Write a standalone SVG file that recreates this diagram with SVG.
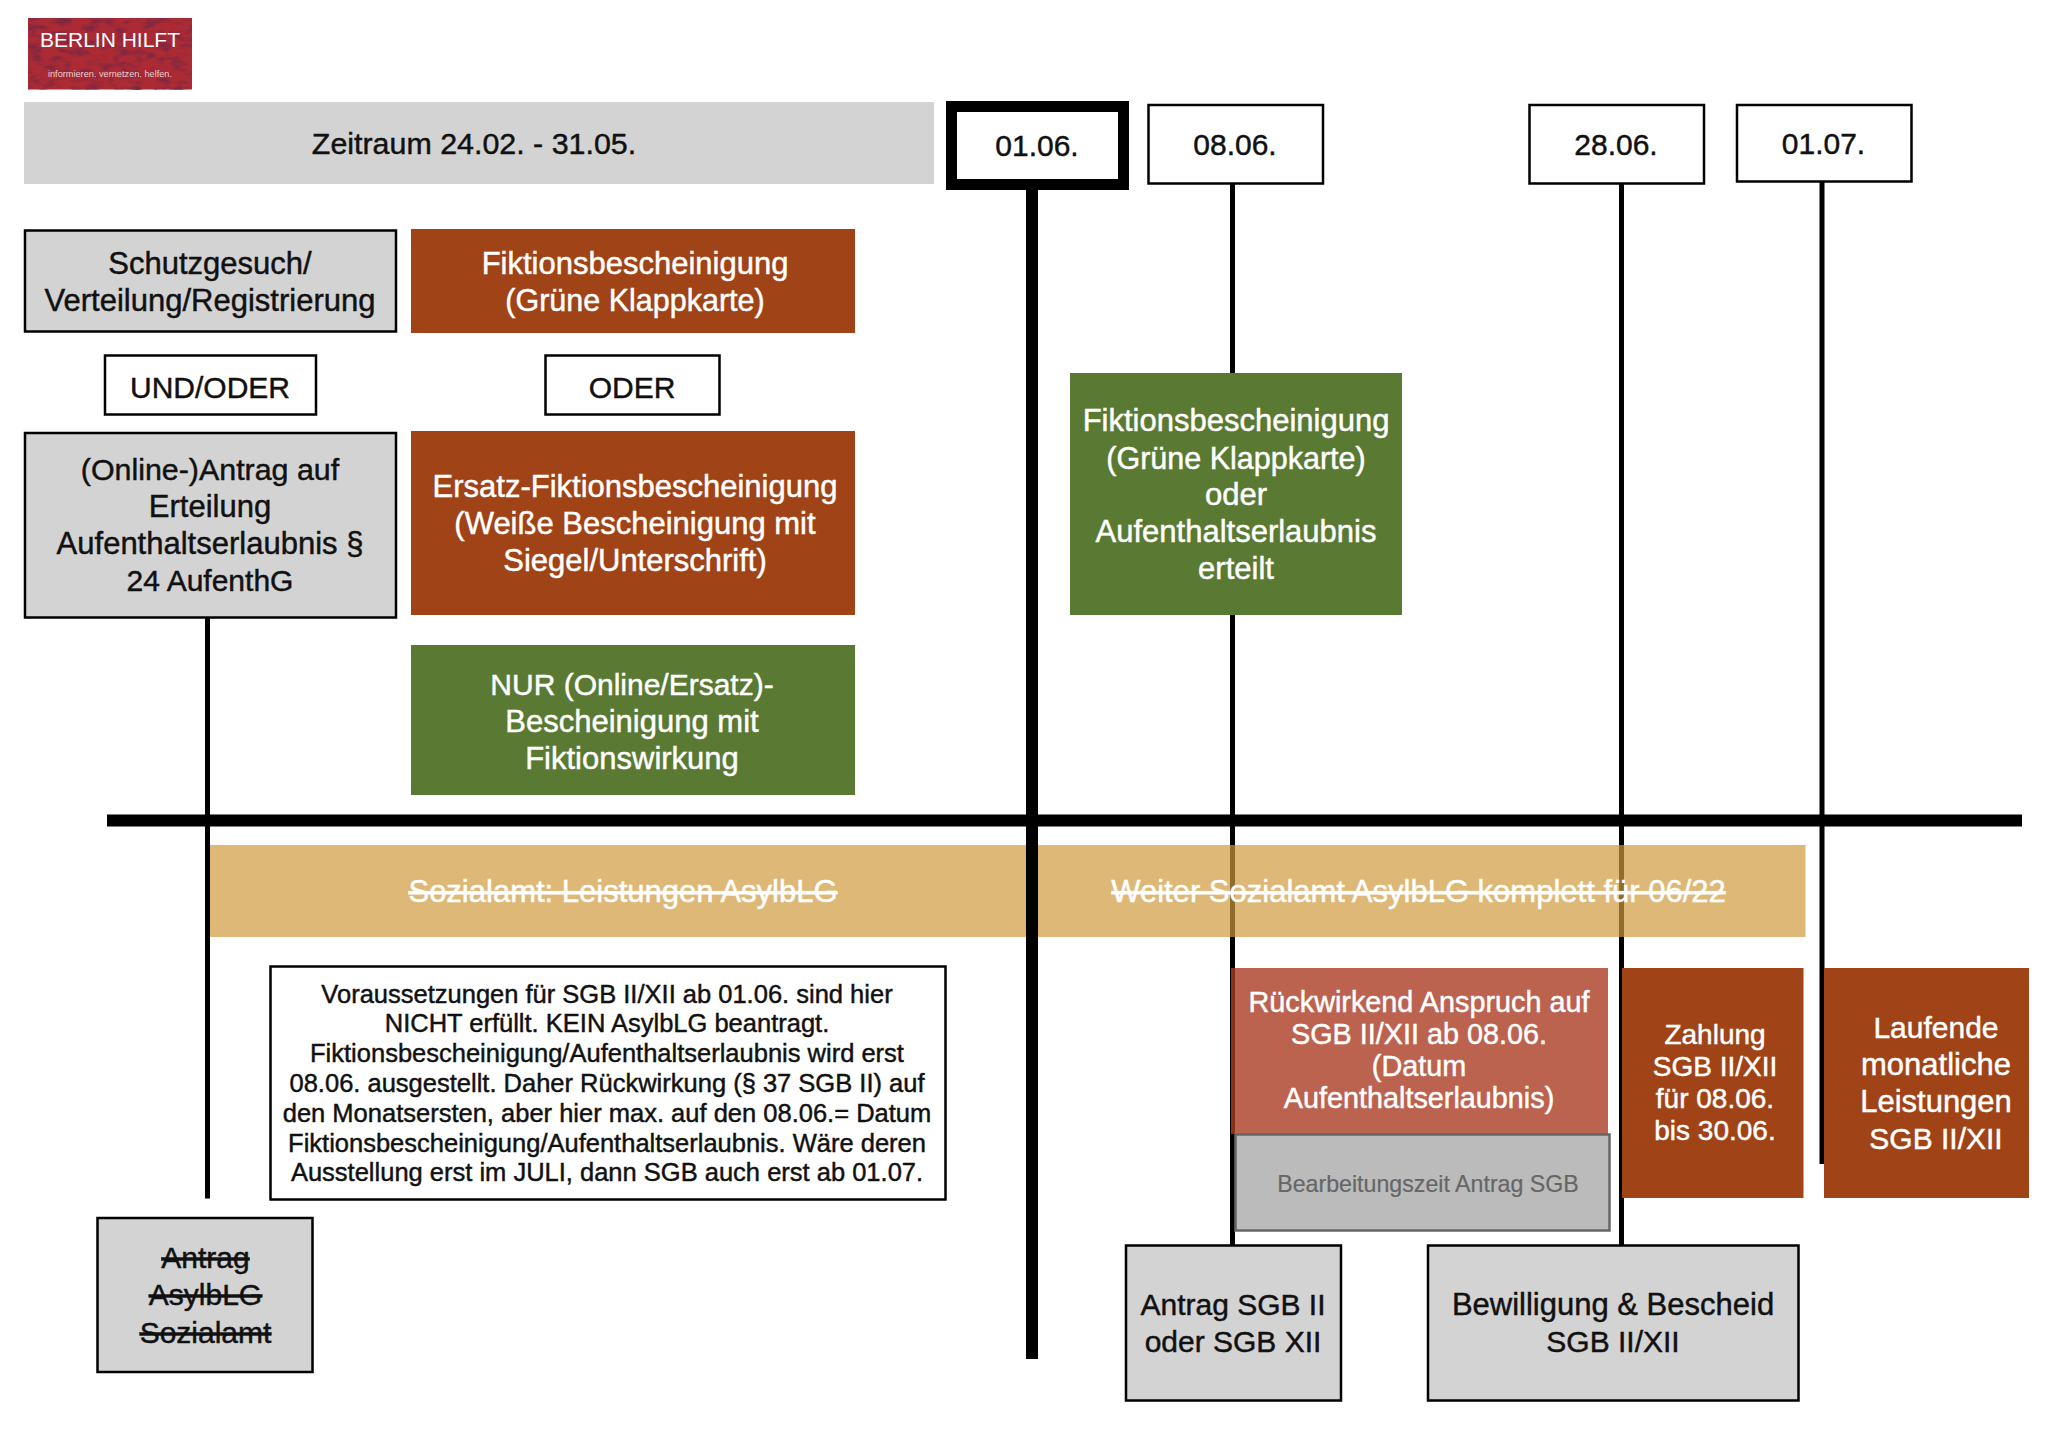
<svg xmlns="http://www.w3.org/2000/svg" width="2048" height="1430" viewBox="0 0 2048 1430">
<style>
text{font-family:"Liberation Sans",Arial,sans-serif;text-anchor:middle;font-size:30px;fill:#111;stroke:#111;stroke-width:.45px}
.w{fill:#fff;stroke:#fff}
.l{font-size:31px}
.m{font-size:28px}
.n{font-size:28.800px}
.s{font-size:25.500px}
.x{text-decoration:line-through}
.gray{fill:#d3d3d3}
.bk{stroke:#000;stroke-width:2.500}
.wb{fill:#fff;stroke:#000;stroke-width:2.500}
.rust{fill:#a04418}
.green{fill:#5a7a33}
.ln{stroke:#000;stroke-width:5;fill:none}
.thick{stroke:#000;stroke-width:12;fill:none}
</style>
<defs>
<filter id="tex" x="0" y="0" width="100%" height="100%">
<feTurbulence type="fractalNoise" baseFrequency="0.07 0.16" numOctaves="4" seed="4"/>
<feColorMatrix values="0 0 0 0 0.22 0 0 0 0 0.02 0 0 0 0 0.05 3.200 0 0 0 -1.450"/>
</filter>
</defs>
<rect id="background" width="2048" height="1430" fill="#fff"/>
<g id="logo">
<rect x="28" y="18" width="164" height="71.500" fill="#ab2a34"/>
<rect x="28" y="18" width="164" height="71.500" filter="url(#tex)"/>
<text x="110" y="47" class="w" style="font-size:21px;stroke-width:0">BERLIN HILFT</text>
<text x="110" y="77" style="font-size:9.200px;fill:#eccfcf;stroke-width:0">informieren. vernetzen. helfen.</text>
</g>
<g id="connectors-back">
<path class="ln" d="M1232.500 184V1245"/>
<path class="ln" d="M1621.500 184V1245"/>
</g>
<g id="band-sozialamt">
<rect x="210" y="845" width="1595.500" height="92" fill="#cf9a3c" fill-opacity=".7"/>
<text x="623" y="902" class="w l x">Sozialamt: Leistungen AsylbLG</text>
<text x="1418.500" y="902" class="w l x">Weiter Sozialamt AsylbLG komplett für 06/22</text>
</g>
<g id="connectors">
<path class="thick" d="M1032 190V1359"/>
<path class="ln" d="M207.500 618V1198.500"/>
<path class="ln" d="M1822 182V1164"/>
<path d="M107 820.500H2022" stroke="#000" stroke-width="12" fill="none"/>
</g>
<g id="node-zeitraum"><rect x="24" y="102" width="910" height="82" class="gray"/><text x="474" y="154" style="font-size:30.400px">Zeitraum 24.02. - 31.05.</text></g>
<g id="node-0106"><rect x="951.500" y="106.500" width="172" height="78" fill="#fff" stroke="#000" stroke-width="11"/><text x="1037" y="156">01.06.</text></g>
<g id="node-0806"><rect x="1148.500" y="105" width="174.500" height="78.500" class="wb"/><text x="1235" y="155">08.06.</text></g>
<g id="node-2806"><rect x="1529.500" y="105" width="174.500" height="78.500" class="wb"/><text x="1616" y="155">28.06.</text></g>
<g id="node-0107"><rect x="1737" y="105" width="174.500" height="76.500" class="wb"/><text x="1823.500" y="153.500">01.07.</text></g>
<g id="node-schutz"><rect x="25" y="230.500" width="371" height="101" class="gray bk"/><text x="210" y="274" class="l">Schutzgesuch/</text><text x="210" y="311" class="l">Verteilung/Registrierung</text></g>
<g id="node-fikt"><rect x="411" y="229" width="444" height="104" class="rust"/><text x="635" y="274" class="w l">Fiktionsbescheinigung</text><text x="635" y="311" class="w" style="font-size:30.500px">(Grüne Klappkarte)</text></g>
<g id="node-undoder"><rect x="105" y="355.500" width="211" height="59" class="wb"/><text x="210" y="398">UND/ODER</text></g>
<g id="node-oder"><rect x="545.500" y="355.500" width="174" height="59" class="wb"/><text x="632" y="398">ODER</text></g>
<g id="node-online"><rect x="25" y="433" width="371" height="184.500" class="gray bk"/><text x="210" y="480" style="font-size:30.400px">(Online-)Antrag auf</text><text x="210" y="517" class="l">Erteilung</text><text x="210" y="554" class="l">Aufenthaltserlaubnis §</text><text x="210" y="591">24 AufenthG</text></g>
<g id="node-ersatz"><rect x="411" y="431" width="444" height="184" class="rust"/><text x="635" y="497" class="w l">Ersatz-Fiktionsbescheinigung</text><text x="635" y="534" class="w l">(Weiße Bescheinigung mit</text><text x="635" y="571" class="w l">Siegel/Unterschrift)</text></g>
<g id="node-nur"><rect x="411" y="645" width="444" height="150" class="green"/><text x="632" y="695" class="w">NUR (Online/Ersatz)-</text><text x="632" y="732" class="w l">Bescheinigung mit</text><text x="632" y="769" class="w l">Fiktionswirkung</text></g>
<g id="node-green0806"><rect x="1070" y="373" width="332" height="242" class="green"/><text x="1236" y="431" class="w l">Fiktionsbescheinigung</text><text x="1236" y="468.500" class="w" style="font-size:30.500px">(Grüne Klappkarte)</text><text x="1236" y="505" class="w l">oder</text><text x="1236" y="542" class="w l">Aufenthaltserlaubnis</text><text x="1236" y="579" class="w l">erteilt</text></g>
<g id="node-note"><rect x="270.500" y="966.500" width="675" height="233" class="wb"/>
<text x="607" y="1003" class="s">Voraussetzungen für SGB II/XII ab 01.06. sind hier</text>
<text x="607" y="1032" class="s">NICHT erfüllt. KEIN AsylbLG beantragt.</text>
<text x="607" y="1062" class="s">Fiktionsbescheinigung/Aufenthaltserlaubnis wird erst</text>
<text x="607" y="1092" class="s">08.06. ausgestellt. Daher Rückwirkung (§ 37 SGB II) auf</text>
<text x="607" y="1121.500" class="s">den Monatsersten, aber hier max. auf den 08.06.= Datum</text>
<text x="607" y="1151.500" class="s">Fiktionsbescheinigung/Aufenthaltserlaubnis. Wäre deren</text>
<text x="607" y="1180.500" class="s">Ausstellung erst im JULI, dann SGB auch erst ab 01.07.</text></g>
<g id="node-asyl"><rect x="97.500" y="1218" width="215" height="154" class="gray bk"/><text x="205.500" y="1268" class="x">Antrag</text><text x="205.500" y="1305" class="x">AsylbLG</text><text x="205.500" y="1343" class="x">Sozialamt</text></g>
<g id="node-rueck"><rect x="1231" y="968" width="377" height="166" fill="#ab3c24" fill-opacity=".8"/><text x="1419" y="1012" class="n w">Rückwirkend Anspruch auf</text><text x="1419" y="1044" class="n w">SGB II/XII ab 08.06.</text><text x="1419" y="1076" class="n w">(Datum</text><text x="1419" y="1108" class="n w">Aufenthaltserlaubnis)</text></g>
<g id="node-bearb"><rect x="1235.500" y="1134.500" width="374" height="96" fill="#bbb" stroke="#666" stroke-width="2.500"/><text x="1428" y="1192" style="font-size:23.200px;fill:#666;stroke:#666;stroke-width:.2px">Bearbeitungszeit Antrag SGB</text></g>
<g id="node-zahlung"><rect x="1622" y="968" width="181.500" height="230" class="rust"/><text x="1715" y="1044" class="m w">Zahlung</text><text x="1715" y="1076" class="m w">SGB II/XII</text><text x="1715" y="1108" class="m w">für 08.06.</text><text x="1715" y="1140" class="m w">bis 30.06.</text></g>
<g id="node-laufend"><rect x="1824" y="968" width="205" height="230" class="rust"/><text x="1936" y="1038" class="w">Laufende</text><text x="1936" y="1075" class="w l">monatliche</text><text x="1936" y="1112" class="w l">Leistungen</text><text x="1936" y="1149" class="w">SGB II/XII</text></g>
<g id="node-antragsgb"><rect x="1126" y="1245.500" width="215" height="155" class="gray bk"/><text x="1233" y="1315">Antrag SGB II</text><text x="1233" y="1352">oder SGB XII</text></g>
<g id="node-bewilligung"><rect x="1428" y="1245.500" width="370.500" height="155" class="gray bk"/><text x="1613" y="1315" class="l">Bewilligung &amp; Bescheid</text><text x="1613" y="1352">SGB II/XII</text></g>
</svg>
